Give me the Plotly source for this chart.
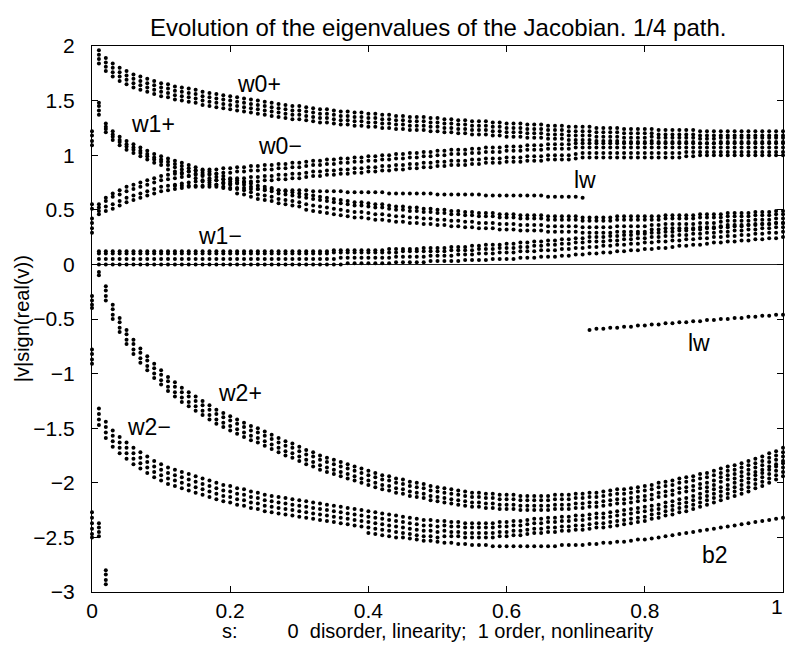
import plotly.graph_objects as go

# s grid (columns of computed eigenvalues)
S = [0.01,0.02,0.03,0.04,0.05,0.06,0.07,0.08,0.09,0.10,
     0.11,0.12,0.13,0.14,0.15,0.16,0.17,0.18,0.19,0.20,
     0.21,0.22,0.23,0.24,0.25,0.26,0.27,0.28,0.29,0.30,
     0.31,0.32,0.33,0.34,0.35,0.36,0.37,0.38,0.39,0.40,
     0.41,0.42,0.43,0.44,0.45,0.46,0.47,0.48,0.49,0.50,
     0.51,0.52,0.53,0.54,0.55,0.56,0.57,0.58,0.59,0.60,
     0.61,0.62,0.63,0.64,0.65,0.66,0.67,0.68,0.69,0.70,
     0.71,0.72,0.73,0.74,0.75,0.76,0.77,0.78,0.79,0.80,
     0.81,0.82,0.83,0.84,0.85,0.86,0.87,0.88,0.89,0.90,
     0.91,0.92,0.93,0.94,0.95,0.96,0.97,0.98,0.99,1.00]

# ---- w0+ band (4 branches)
W0P_A = [1.96,1.89,1.84,1.80,1.77,1.74,1.72,1.70,1.68,1.66,
         1.65,1.63,1.62,1.61,1.60,1.58,1.57,1.56,1.55,1.54,
         1.53,1.52,1.51,1.50,1.49,1.48,1.47,1.46,1.45,1.45,
         1.44,1.43,1.42,1.42,1.41,1.40,1.40,1.39,1.39,1.38,
         1.38,1.37,1.37,1.36,1.36,1.35,1.35,1.35,1.34,1.34,
         1.33,1.33,1.32,1.32,1.31,1.31,1.31,1.30,1.30,1.29,
         1.29,1.29,1.28,1.28,1.28,1.27,1.27,1.27,1.26,1.26,
         1.26,1.26,1.25,1.25,1.25,1.25,1.24,1.24,1.24,1.24,
         1.24,1.23,1.23,1.23,1.23,1.23,1.23,1.22,1.22,1.22,
         1.22,1.22,1.22,1.22,1.22,1.22,1.22,1.22,1.22,1.22]
W0P_B = [1.92,1.85,1.80,1.76,1.73,1.70,1.68,1.66,1.64,1.62,
         1.61,1.59,1.58,1.57,1.56,1.54,1.53,1.52,1.51,1.50,
         1.49,1.48,1.47,1.46,1.45,1.44,1.43,1.42,1.41,1.41,
         1.40,1.39,1.38,1.38,1.37,1.36,1.36,1.35,1.35,1.34,
         1.34,1.33,1.33,1.32,1.32,1.31,1.31,1.31,1.30,1.30,
         1.29,1.29,1.28,1.28,1.27,1.27,1.27,1.26,1.26,1.25,
         1.25,1.25,1.24,1.24,1.24,1.23,1.23,1.23,1.22,1.22,
         1.22,1.22,1.21,1.21,1.21,1.21,1.20,1.20,1.20,1.20,
         1.20,1.19,1.19,1.19,1.19,1.19,1.19,1.18,1.18,1.18,
         1.18,1.18,1.18,1.18,1.18,1.18,1.18,1.18,1.18,1.18]
W0P_C = [1.88,1.81,1.76,1.72,1.69,1.66,1.64,1.62,1.60,1.58,
         1.57,1.55,1.54,1.53,1.52,1.50,1.49,1.48,1.47,1.46,
         1.45,1.44,1.43,1.42,1.41,1.40,1.39,1.38,1.37,1.37,
         1.36,1.35,1.34,1.34,1.33,1.32,1.32,1.31,1.31,1.30,
         1.30,1.29,1.29,1.28,1.28,1.27,1.27,1.27,1.26,1.26,
         1.25,1.25,1.24,1.24,1.23,1.23,1.23,1.22,1.22,1.21,
         1.21,1.21,1.20,1.20,1.20,1.19,1.19,1.19,1.18,1.18,
         1.18,1.18,1.17,1.17,1.17,1.17,1.16,1.16,1.16,1.16,
         1.17,1.16,1.16,1.16,1.16,1.16,1.16,1.15,1.15,1.15,
         1.16,1.16,1.16,1.16,1.16,1.16,1.16,1.16,1.16,1.16]
W0P_D = [1.84,1.77,1.72,1.68,1.65,1.62,1.60,1.58,1.56,1.54,
         1.53,1.51,1.50,1.49,1.48,1.46,1.45,1.44,1.43,1.42,
         1.41,1.40,1.39,1.38,1.37,1.36,1.35,1.34,1.33,1.33,
         1.32,1.31,1.30,1.30,1.29,1.28,1.28,1.27,1.27,1.26,
         1.26,1.25,1.25,1.24,1.24,1.23,1.23,1.23,1.22,1.22,
         1.21,1.21,1.20,1.20,1.19,1.19,1.19,1.18,1.18,1.17,
         1.17,1.17,1.16,1.16,1.16,1.15,1.15,1.15,1.14,1.14,
         1.14,1.14,1.13,1.13,1.13,1.13,1.12,1.12,1.12,1.12,
         1.13,1.12,1.12,1.12,1.12,1.12,1.12,1.11,1.11,1.11,
         1.12,1.12,1.12,1.12,1.12,1.12,1.12,1.12,1.12,1.12]

# ---- w0- band
W0M_A = [0.55,0.61,0.65,0.68,0.71,0.73,0.75,0.77,0.79,0.81,
         0.82,0.83,0.84,0.85,0.86,0.86,0.87,0.87,0.88,0.88,
         0.89,0.89,0.90,0.90,0.91,0.91,0.92,0.92,0.93,0.93,
         0.94,0.95,0.95,0.96,0.96,0.97,0.97,0.98,0.98,0.99,
         0.99,1.00,1.00,1.01,1.01,1.02,1.02,1.03,1.03,1.04,
         1.04,1.05,1.05,1.05,1.06,1.06,1.07,1.07,1.07,1.08,
         1.08,1.08,1.09,1.09,1.09,1.10,1.10,1.10,1.10,1.11,
         1.11,1.11,1.11,1.11,1.11,1.11,1.11,1.11,1.11,1.11,
         1.11,1.11,1.11,1.11,1.11,1.11,1.11,1.11,1.11,1.11,
         1.11,1.11,1.11,1.11,1.11,1.11,1.11,1.11,1.11,1.11]
W0M_B = [0.52,0.58,0.62,0.64,0.67,0.69,0.71,0.73,0.75,0.77,
         0.78,0.79,0.80,0.81,0.82,0.82,0.83,0.83,0.84,0.84,
         0.85,0.85,0.86,0.86,0.87,0.87,0.88,0.88,0.89,0.89,
         0.90,0.91,0.91,0.92,0.92,0.93,0.93,0.94,0.94,0.95,
         0.95,0.96,0.96,0.97,0.97,0.98,0.98,0.99,0.99,1.00,
         1.00,1.01,1.01,1.01,1.02,1.02,1.03,1.03,1.03,1.04,
         1.04,1.04,1.05,1.05,1.05,1.06,1.06,1.06,1.06,1.07,
         1.07,1.07,1.07,1.07,1.07,1.07,1.07,1.07,1.07,1.07,
         1.07,1.07,1.07,1.07,1.07,1.07,1.07,1.07,1.07,1.07,
         1.07,1.07,1.07,1.07,1.07,1.07,1.07,1.07,1.07,1.07]
W0M_C = [0.49,0.53,0.55,0.58,0.61,0.63,0.65,0.67,0.69,0.71,
         0.72,0.73,0.74,0.75,0.76,0.76,0.77,0.77,0.78,0.78,
         0.79,0.79,0.80,0.80,0.81,0.81,0.82,0.82,0.83,0.83,
         0.84,0.85,0.85,0.86,0.86,0.87,0.87,0.88,0.88,0.89,
         0.89,0.90,0.90,0.91,0.91,0.92,0.92,0.93,0.93,0.94,
         0.94,0.95,0.95,0.95,0.96,0.96,0.97,0.97,0.97,0.98,
         0.98,0.98,0.99,0.99,0.99,1.00,1.00,1.00,1.00,1.01,
         1.02,1.02,1.02,1.02,1.02,1.02,1.02,1.02,1.02,1.02,
         1.02,1.02,1.02,1.02,1.02,1.03,1.03,1.03,1.03,1.03,
         1.03,1.03,1.03,1.03,1.03,1.03,1.03,1.03,1.03,1.03]
W0M_D = [0.46,0.49,0.51,0.54,0.57,0.59,0.61,0.63,0.65,0.67,
         0.68,0.69,0.70,0.71,0.72,0.72,0.73,0.73,0.74,0.74,
         0.75,0.75,0.76,0.76,0.77,0.77,0.78,0.78,0.79,0.79,
         0.80,0.81,0.81,0.82,0.82,0.83,0.83,0.84,0.84,0.85,
         0.85,0.86,0.86,0.87,0.87,0.88,0.88,0.89,0.89,0.90,
         0.90,0.91,0.91,0.91,0.92,0.92,0.93,0.93,0.93,0.94,
         0.94,0.94,0.95,0.95,0.95,0.96,0.96,0.96,0.96,0.97,
         0.98,0.98,0.98,0.98,0.98,0.98,0.98,0.98,0.98,0.98,
         0.98,0.98,0.98,0.98,0.98,0.99,0.99,1.00,1.00,1.00,
         1.00,1.00,1.00,1.00,1.00,1.00,1.00,1.00,1.00,1.00]

# ---- w1+ band
W1P_A = [1.48,1.29,1.22,1.17,1.13,1.10,1.07,1.04,1.01,0.99,
         0.97,0.95,0.93,0.91,0.89,0.87,0.85,0.83,0.81,0.79,
         0.77,0.76,0.74,0.72,0.71,0.70,0.68,0.67,0.66,0.65,
         0.64,0.63,0.62,0.61,0.60,0.59,0.58,0.57,0.57,0.56,
         0.55,0.55,0.54,0.53,0.53,0.52,0.52,0.51,0.51,0.50,
         0.50,0.49,0.49,0.48,0.48,0.47,0.47,0.47,0.46,0.46,
         0.46,0.45,0.45,0.45,0.45,0.44,0.44,0.44,0.44,0.44,
         0.43,0.43,0.43,0.43,0.43,0.44,0.44,0.44,0.44,0.44,
         0.44,0.44,0.45,0.45,0.45,0.45,0.45,0.46,0.46,0.46,
         0.46,0.47,0.47,0.47,0.47,0.48,0.48,0.48,0.49,0.49]
W1P_B = [1.45,1.26,1.19,1.14,1.10,1.07,1.04,1.01,0.98,0.96,
         0.94,0.92,0.90,0.88,0.86,0.84,0.82,0.80,0.78,0.76,
         0.74,0.73,0.71,0.69,0.68,0.67,0.65,0.64,0.63,0.62,
         0.61,0.60,0.59,0.58,0.57,0.56,0.55,0.54,0.54,0.53,
         0.52,0.52,0.51,0.50,0.50,0.49,0.49,0.48,0.48,0.47,
         0.47,0.46,0.46,0.45,0.45,0.44,0.44,0.44,0.43,0.43,
         0.43,0.42,0.42,0.42,0.42,0.41,0.41,0.41,0.41,0.41,
         0.40,0.40,0.40,0.40,0.40,0.41,0.41,0.41,0.41,0.41,
         0.41,0.41,0.42,0.42,0.42,0.42,0.42,0.43,0.43,0.43,
         0.43,0.44,0.44,0.44,0.44,0.45,0.45,0.45,0.46,0.46]
W1P_C = [1.41,1.24,1.17,1.12,1.08,1.05,1.02,0.99,0.96,0.94,
         0.91,0.89,0.87,0.85,0.83,0.81,0.79,0.77,0.75,0.73,
         0.69,0.68,0.66,0.64,0.63,0.62,0.60,0.59,0.58,0.57,
         0.55,0.54,0.53,0.52,0.51,0.50,0.49,0.48,0.48,0.47,
         0.46,0.46,0.45,0.44,0.44,0.43,0.43,0.42,0.42,0.41,
         0.41,0.40,0.40,0.39,0.39,0.38,0.38,0.38,0.37,0.37,
         0.37,0.36,0.36,0.36,0.36,0.35,0.35,0.35,0.35,0.35,
         0.34,0.34,0.34,0.34,0.34,0.35,0.35,0.35,0.35,0.35,
         0.36,0.36,0.37,0.37,0.37,0.37,0.37,0.38,0.38,0.38,
         0.39,0.40,0.40,0.40,0.40,0.41,0.41,0.41,0.42,0.42]
W1P_D = [1.37,1.21,1.14,1.09,1.05,1.02,0.99,0.96,0.93,0.91,
         0.87,0.85,0.83,0.81,0.79,0.77,0.75,0.73,0.71,0.69,
         0.65,0.64,0.62,0.60,0.59,0.58,0.56,0.55,0.54,0.53,
         0.50,0.49,0.48,0.47,0.46,0.45,0.44,0.43,0.43,0.42,
         0.41,0.41,0.40,0.39,0.39,0.38,0.38,0.37,0.37,0.36,
         0.36,0.35,0.35,0.34,0.34,0.33,0.33,0.33,0.32,0.32,
         0.32,0.31,0.31,0.31,0.31,0.30,0.30,0.30,0.30,0.30,
         0.29,0.29,0.29,0.29,0.29,0.30,0.30,0.30,0.30,0.30,
         0.32,0.32,0.33,0.33,0.33,0.33,0.33,0.34,0.34,0.34,
         0.35,0.36,0.36,0.36,0.36,0.37,0.37,0.37,0.38,0.38]

# ---- w1- band
W1M_A = [0.12,0.12,0.12,0.12,0.12,0.12,0.12,0.12,0.12,0.12,
         0.12,0.12,0.12,0.12,0.12,0.12,0.12,0.12,0.12,0.12,
         0.12,0.12,0.12,0.12,0.12,0.12,0.12,0.12,0.12,0.12,
         0.12,0.12,0.12,0.12,0.13,0.13,0.13,0.13,0.13,0.13,
         0.13,0.13,0.14,0.14,0.14,0.14,0.14,0.15,0.15,0.15,
         0.15,0.16,0.16,0.16,0.17,0.17,0.18,0.18,0.18,0.19,
         0.19,0.20,0.20,0.21,0.21,0.22,0.22,0.23,0.23,0.24,
         0.24,0.25,0.25,0.25,0.26,0.26,0.27,0.27,0.28,0.28,
         0.29,0.29,0.30,0.30,0.31,0.31,0.32,0.32,0.33,0.33,
         0.34,0.34,0.35,0.35,0.36,0.36,0.37,0.37,0.38,0.38]
W1M_B = [0.10,0.10,0.10,0.10,0.10,0.10,0.10,0.10,0.10,0.10,
         0.10,0.10,0.10,0.10,0.10,0.10,0.10,0.10,0.10,0.10,
         0.10,0.10,0.10,0.10,0.10,0.10,0.10,0.10,0.10,0.10,
         0.10,0.10,0.10,0.10,0.11,0.11,0.11,0.11,0.11,0.11,
         0.11,0.11,0.11,0.11,0.12,0.12,0.12,0.12,0.12,0.12,
         0.12,0.13,0.13,0.13,0.13,0.14,0.14,0.14,0.15,0.15,
         0.15,0.16,0.16,0.17,0.17,0.18,0.18,0.19,0.19,0.20,
         0.20,0.21,0.21,0.21,0.22,0.22,0.23,0.23,0.24,0.24,
         0.25,0.25,0.26,0.26,0.27,0.27,0.28,0.28,0.29,0.29,
         0.30,0.30,0.31,0.31,0.32,0.32,0.33,0.33,0.34,0.34]
W1M_C = [0.05,0.05,0.05,0.05,0.05,0.05,0.05,0.05,0.05,0.05,
         0.05,0.05,0.05,0.05,0.05,0.05,0.05,0.05,0.05,0.05,
         0.05,0.05,0.05,0.05,0.05,0.05,0.05,0.05,0.05,0.05,
         0.05,0.05,0.05,0.05,0.05,0.06,0.06,0.06,0.06,0.06,
         0.06,0.06,0.06,0.07,0.07,0.07,0.07,0.07,0.08,0.08,
         0.08,0.08,0.09,0.09,0.09,0.10,0.10,0.10,0.11,0.11,
         0.11,0.12,0.12,0.12,0.13,0.13,0.13,0.14,0.14,0.15,
         0.15,0.16,0.16,0.17,0.17,0.18,0.18,0.19,0.19,0.20,
         0.20,0.21,0.21,0.22,0.22,0.23,0.23,0.24,0.24,0.25,
         0.25,0.26,0.26,0.27,0.27,0.28,0.28,0.29,0.29,0.30]
W1M_D = [0.00,0.00,0.00,0.00,0.00,0.00,0.00,0.00,0.00,0.00,
         0.00,0.00,0.00,0.00,0.00,0.00,0.00,0.00,0.00,0.00,
         0.00,0.00,0.00,0.00,0.00,0.00,0.00,0.00,0.00,0.00,
         0.00,0.00,0.00,0.00,0.00,0.00,0.01,0.01,0.01,0.01,
         0.01,0.01,0.01,0.02,0.02,0.02,0.02,0.02,0.03,0.03,
         0.03,0.03,0.03,0.04,0.04,0.04,0.04,0.05,0.05,0.05,
         0.05,0.06,0.06,0.06,0.07,0.07,0.07,0.08,0.08,0.09,
         0.09,0.10,0.10,0.11,0.11,0.12,0.12,0.13,0.13,0.14,
         0.14,0.15,0.15,0.16,0.17,0.17,0.18,0.18,0.19,0.20,
         0.20,0.21,0.21,0.22,0.22,0.23,0.23,0.24,0.24,0.25]

# ---- w2+ band (starts at s = 0.02)
W2P_A = [-0.20,-0.37,-0.49,-0.60,-0.69,-0.77,-0.84,-0.91,-0.97,
         -1.03,-1.08,-1.13,-1.17,-1.21,-1.25,-1.29,-1.33,-1.36,-1.39,
         -1.42,-1.45,-1.48,-1.50,-1.53,-1.56,-1.59,-1.62,-1.64,-1.67,
         -1.70,-1.72,-1.75,-1.77,-1.79,-1.81,-1.83,-1.85,-1.87,-1.89,
         -1.91,-1.93,-1.94,-1.96,-1.97,-1.99,-2.00,-2.01,-2.03,-2.04,
         -2.05,-2.06,-2.07,-2.08,-2.09,-2.09,-2.10,-2.10,-2.11,-2.11,
         -2.11,-2.12,-2.12,-2.12,-2.12,-2.12,-2.11,-2.11,-2.11,-2.10,
         -2.10,-2.09,-2.09,-2.08,-2.07,-2.06,-2.06,-2.05,-2.04,-2.03,
         -2.02,-2.00,-1.99,-1.98,-1.96,-1.95,-1.94,-1.92,-1.91,-1.89,
         -1.87,-1.85,-1.84,-1.82,-1.80,-1.78,-1.76,-1.73,-1.71,-1.68]
W2P_B = [-0.24,-0.41,-0.53,-0.64,-0.73,-0.81,-0.88,-0.95,-1.01,
         -1.07,-1.12,-1.17,-1.21,-1.25,-1.29,-1.33,-1.37,-1.40,-1.43,
         -1.46,-1.49,-1.52,-1.54,-1.57,-1.60,-1.63,-1.66,-1.68,-1.71,
         -1.74,-1.76,-1.79,-1.81,-1.83,-1.85,-1.87,-1.89,-1.91,-1.93,
         -1.95,-1.97,-1.98,-2.00,-2.01,-2.03,-2.04,-2.05,-2.07,-2.08,
         -2.09,-2.10,-2.11,-2.12,-2.13,-2.13,-2.14,-2.14,-2.15,-2.15,
         -2.15,-2.16,-2.16,-2.16,-2.16,-2.16,-2.15,-2.15,-2.15,-2.14,
         -2.14,-2.13,-2.13,-2.12,-2.11,-2.10,-2.10,-2.09,-2.08,-2.07,
         -2.06,-2.04,-2.03,-2.02,-2.00,-1.99,-1.98,-1.96,-1.95,-1.93,
         -1.91,-1.89,-1.88,-1.86,-1.84,-1.82,-1.80,-1.77,-1.75,-1.72]
W2P_C = [-0.29,-0.46,-0.58,-0.69,-0.78,-0.86,-0.93,-1.00,-1.06,
         -1.12,-1.17,-1.22,-1.26,-1.30,-1.34,-1.38,-1.42,-1.45,-1.48,
         -1.51,-1.54,-1.57,-1.59,-1.62,-1.65,-1.68,-1.71,-1.73,-1.76,
         -1.79,-1.81,-1.84,-1.86,-1.88,-1.90,-1.92,-1.94,-1.96,-1.98,
         -2.00,-2.02,-2.03,-2.05,-2.06,-2.08,-2.09,-2.10,-2.12,-2.13,
         -2.14,-2.15,-2.16,-2.17,-2.18,-2.18,-2.19,-2.19,-2.20,-2.20,
         -2.20,-2.21,-2.21,-2.21,-2.21,-2.21,-2.20,-2.20,-2.20,-2.19,
         -2.19,-2.18,-2.18,-2.17,-2.16,-2.15,-2.15,-2.14,-2.13,-2.12,
         -2.11,-2.09,-2.08,-2.07,-2.05,-2.04,-2.03,-2.01,-2.00,-1.98,
         -1.95,-1.93,-1.92,-1.90,-1.88,-1.86,-1.84,-1.81,-1.79,-1.76]
W2P_D = [-0.33,-0.50,-0.62,-0.73,-0.82,-0.90,-0.97,-1.04,-1.10,
         -1.16,-1.21,-1.26,-1.30,-1.34,-1.38,-1.42,-1.46,-1.49,-1.52,
         -1.55,-1.58,-1.61,-1.63,-1.66,-1.69,-1.72,-1.75,-1.77,-1.80,
         -1.83,-1.85,-1.88,-1.90,-1.92,-1.94,-1.96,-1.98,-2.00,-2.02,
         -2.04,-2.06,-2.07,-2.09,-2.10,-2.12,-2.13,-2.14,-2.16,-2.17,
         -2.18,-2.19,-2.20,-2.21,-2.22,-2.22,-2.23,-2.23,-2.24,-2.24,
         -2.24,-2.25,-2.25,-2.25,-2.25,-2.25,-2.24,-2.24,-2.24,-2.23,
         -2.23,-2.22,-2.22,-2.21,-2.20,-2.19,-2.19,-2.18,-2.17,-2.16,
         -2.15,-2.13,-2.12,-2.11,-2.09,-2.08,-2.07,-2.05,-2.04,-2.02,
         -1.99,-1.97,-1.96,-1.94,-1.92,-1.90,-1.88,-1.85,-1.83,-1.80]

# ---- w2- band
W2M_A = [-1.32,-1.44,-1.52,-1.58,-1.63,-1.68,-1.72,-1.76,-1.80,-1.83,
         -1.86,-1.88,-1.90,-1.92,-1.94,-1.96,-1.98,-2.00,-2.02,-2.03,
         -2.05,-2.06,-2.08,-2.09,-2.11,-2.12,-2.13,-2.14,-2.15,-2.16,
         -2.17,-2.18,-2.19,-2.20,-2.21,-2.22,-2.23,-2.24,-2.25,-2.26,
         -2.27,-2.28,-2.29,-2.30,-2.31,-2.32,-2.33,-2.34,-2.34,-2.35,
         -2.35,-2.36,-2.36,-2.37,-2.37,-2.37,-2.37,-2.37,-2.36,-2.36,
         -2.35,-2.35,-2.34,-2.33,-2.33,-2.32,-2.32,-2.31,-2.31,-2.30,
         -2.30,-2.29,-2.28,-2.28,-2.27,-2.26,-2.25,-2.24,-2.23,-2.22,
         -2.21,-2.20,-2.18,-2.17,-2.15,-2.14,-2.12,-2.10,-2.08,-2.06,
         -2.04,-2.02,-2.00,-1.98,-1.96,-1.93,-1.91,-1.88,-1.85,-1.82]
W2M_B = [-1.37,-1.49,-1.57,-1.63,-1.68,-1.73,-1.77,-1.81,-1.85,-1.88,
         -1.91,-1.93,-1.95,-1.97,-1.99,-2.01,-2.03,-2.05,-2.07,-2.08,
         -2.10,-2.11,-2.13,-2.14,-2.16,-2.17,-2.18,-2.19,-2.20,-2.21,
         -2.22,-2.23,-2.24,-2.25,-2.26,-2.27,-2.28,-2.29,-2.30,-2.31,
         -2.32,-2.33,-2.34,-2.35,-2.36,-2.37,-2.38,-2.39,-2.39,-2.40,
         -2.39,-2.40,-2.40,-2.41,-2.41,-2.41,-2.41,-2.41,-2.40,-2.40,
         -2.39,-2.39,-2.38,-2.37,-2.37,-2.36,-2.36,-2.35,-2.35,-2.34,
         -2.34,-2.33,-2.32,-2.32,-2.31,-2.30,-2.29,-2.28,-2.27,-2.26,
         -2.25,-2.24,-2.22,-2.21,-2.19,-2.18,-2.16,-2.14,-2.12,-2.10,
         -2.08,-2.06,-2.04,-2.02,-2.00,-1.97,-1.95,-1.92,-1.89,-1.86]
W2M_C = [-1.42,-1.54,-1.62,-1.68,-1.73,-1.78,-1.82,-1.86,-1.90,-1.93,
         -1.96,-1.98,-2.00,-2.02,-2.04,-2.06,-2.08,-2.10,-2.12,-2.13,
         -2.15,-2.16,-2.18,-2.19,-2.21,-2.22,-2.23,-2.24,-2.25,-2.26,
         -2.27,-2.28,-2.29,-2.30,-2.31,-2.32,-2.33,-2.34,-2.35,-2.36,
         -2.37,-2.38,-2.39,-2.40,-2.41,-2.42,-2.43,-2.44,-2.44,-2.45,
         -2.44,-2.45,-2.45,-2.46,-2.46,-2.46,-2.46,-2.46,-2.45,-2.45,
         -2.44,-2.44,-2.43,-2.42,-2.42,-2.41,-2.41,-2.40,-2.40,-2.39,
         -2.39,-2.38,-2.37,-2.37,-2.36,-2.35,-2.34,-2.33,-2.32,-2.31,
         -2.29,-2.28,-2.26,-2.25,-2.23,-2.22,-2.20,-2.18,-2.16,-2.14,
         -2.12,-2.10,-2.08,-2.06,-2.04,-2.01,-1.99,-1.96,-1.93,-1.90]
W2M_D = [-1.47,-1.59,-1.67,-1.73,-1.78,-1.83,-1.87,-1.91,-1.95,-1.98,
         -2.01,-2.03,-2.05,-2.07,-2.09,-2.11,-2.13,-2.15,-2.17,-2.18,
         -2.20,-2.21,-2.23,-2.24,-2.26,-2.27,-2.28,-2.29,-2.30,-2.31,
         -2.32,-2.33,-2.34,-2.35,-2.36,-2.37,-2.38,-2.39,-2.40,-2.41,
         -2.42,-2.43,-2.44,-2.45,-2.46,-2.47,-2.48,-2.49,-2.49,-2.50,
         -2.49,-2.49,-2.49,-2.50,-2.50,-2.50,-2.50,-2.50,-2.49,-2.49,
         -2.48,-2.48,-2.47,-2.46,-2.46,-2.45,-2.45,-2.44,-2.44,-2.43,
         -2.43,-2.42,-2.41,-2.41,-2.40,-2.39,-2.38,-2.37,-2.36,-2.35,
         -2.33,-2.32,-2.30,-2.29,-2.27,-2.26,-2.24,-2.22,-2.20,-2.18,
         -2.16,-2.14,-2.12,-2.10,-2.08,-2.05,-2.03,-2.00,-1.97,-1.94]

# ---- single branches
LW_UP = [0.72,0.72,0.72,0.71,0.71,0.71,0.71,0.70,0.70,0.70,
         0.70,0.69,0.69,0.69,0.69,0.68,0.68,0.68,0.68,0.68,
         0.67,0.67,0.67,0.67,0.67,0.66,0.66,0.66,0.66,0.66,
         0.66,0.65,0.65,0.65,0.65,0.65,0.65,0.65,0.64,0.64,
         0.64,0.64,0.64,0.64,0.64,0.63,0.63,0.63,0.63,0.63,
         0.63,0.63,0.63,0.63,0.62,0.62,0.62,0.62,0.62,0.61]      # s = 0.12 .. 0.71
LW_LO = [-0.60,-0.59,-0.59,-0.58,-0.58,-0.57,-0.57,-0.56,-0.56,-0.55,
         -0.55,-0.54,-0.54,-0.53,-0.53,-0.52,-0.52,-0.51,-0.51,-0.50,
         -0.50,-0.49,-0.49,-0.48,-0.48,-0.47,-0.47,-0.46,-0.46]  # s = 0.72 .. 1.00
B2 = [-2.46,-2.47,-2.48,-2.49,-2.50,-2.50,-2.51,-2.52,-2.53,-2.53,
      -2.54,-2.55,-2.55,-2.56,-2.56,-2.57,-2.57,-2.57,-2.58,-2.58,
      -2.58,-2.58,-2.58,-2.58,-2.58,-2.58,-2.58,-2.58,-2.57,-2.57,
      -2.57,-2.57,-2.56,-2.56,-2.55,-2.55,-2.54,-2.54,-2.53,-2.52,
      -2.52,-2.51,-2.50,-2.49,-2.48,-2.47,-2.46,-2.45,-2.44,-2.43,
      -2.42,-2.41,-2.40,-2.39,-2.38,-2.37,-2.36,-2.35,-2.34,-2.33,
      -2.32]                                                       # s = 0.40 .. 1.00

# ---- isolated eigenvalues at the very start of the path
EDGE_S = [0, 0, 0, 0, 0, 0, 0, 0, 0, 0, 0, 0, 0, 0, 0, 0, 0, 0, 0, 0, 0, 0, 0, 0,
          0.01, 0.01, 0.01, 0.01, 0.01, 0.01, 0.02, 0.02, 0.02, 0.02]
EDGE_V = [1.22, 1.18, 1.13, 1.09, 0.55, 0.51, 0.42, 0.38, 0.33, 0.29,
          -0.29, -0.33, -0.37, -0.40, -0.78, -0.82, -0.87, -0.91,
          -2.27, -2.32, -2.37, -2.42, -2.47, -2.50,
          -0.07, -0.10, -2.37, -2.41, -2.45, -2.49,
          -2.80, -2.84, -2.89, -2.93]

# ---- branch labels
LABELS = ["w0+", "w1+", "w0\u2212", "lw", "w1\u2212", "w2+", "w2\u2212", "lw", "b2"]
LABEL_S = [0.242, 0.088, 0.272, 0.713, 0.185, 0.214, 0.083, 0.878, 0.902]
LABEL_V = [1.65, 1.29, 1.085, 0.77, 0.26, -1.18, -1.49, -0.72, -2.66]

XTICKS = [0, 0.2, 0.4, 0.6, 0.8, 1]
XTICK_TEXT = ["0", "0.2", "0.4", "0.6", "0.8", ""]   # "1" sits at the window edge, drawn below
YTICKS = [-3, -2.5, -2, -1.5, -1, -0.5, 0, 0.5, 1, 1.5, 2]

series = [
    (S, W0P_A), (S, W0P_B), (S, W0P_C), (S, W0P_D),
    (S, W0M_A), (S, W0M_B), (S, W0M_C), (S, W0M_D),
    (S, W1P_A), (S, W1P_B), (S, W1P_C), (S, W1P_D),
    (S, W1M_A), (S, W1M_B), (S, W1M_C), (S, W1M_D),
    (S[1:], W2P_A), (S[1:], W2P_B), (S[1:], W2P_C), (S[1:], W2P_D),
    (S, W2M_A), (S, W2M_B), (S, W2M_C), (S, W2M_D),
    (S[11:71], LW_UP), (S[71:], LW_LO), (S[39:], B2),
    (EDGE_S, EDGE_V),
]
for xs, ys in series:
    assert len(xs) == len(ys), (len(xs), len(ys))

FONT = "Liberation Sans, Arial, Helvetica, sans-serif"

fig = go.Figure()
for xs, ys in series:
    fig.add_trace(go.Scatter(
        x=xs, y=ys, mode="markers", cliponaxis=False, showlegend=False,
        marker=dict(size=4, color="black", line=dict(width=0)),
        hoverinfo="skip"))

for t, xv, yv in zip(LABELS, LABEL_S, LABEL_V):
    fig.add_annotation(x=xv, y=yv, xref="x", yref="y", text=t, showarrow=False,
                       xanchor="center", yanchor="middle",
                       font=dict(family=FONT, size=23, color="black"))

# last x tick label, right-aligned to the figure edge so it stays inside the page
fig.add_annotation(x=1.0029, y=0, xref="paper", yref="paper", text="1",
                   showarrow=False, xanchor="right", yanchor="top", yshift=-1,
                   font=dict(family=FONT, size=21, color="black"))

fig.add_annotation(x=0.5, y=1.033, xref="paper", yref="paper",
                   text="Evolution of the eigenvalues of the Jacobian. 1/4 path.",
                   showarrow=False, xanchor="center", yanchor="middle",
                   font=dict(family=FONT, size=24, color="black"))
NB = "\u00a0"
fig.add_annotation(x=0.5, y=-0.072, xref="paper", yref="paper",
                   text="s:" + NB * 9 + "0" + NB * 2 + "disorder, linearity;" + NB * 2 + "1 order, nonlinearity",
                   showarrow=False, xanchor="center", yanchor="middle",
                   font=dict(family=FONT, size=20, color="black"))
fig.add_annotation(x=-0.101, y=0.5, xref="paper", yref="paper",
                   text="|v|sign(real(v))", textangle=-90,
                   showarrow=False, xanchor="center", yanchor="middle",
                   font=dict(family=FONT, size=20, color="black"))

axis_common = dict(showgrid=False, showline=True, linecolor="black", linewidth=1,
                   mirror="ticks", ticks="inside", ticklen=6, tickcolor="black",
                   tickfont=dict(family=FONT, size=21, color="black"))
fig.update_xaxes(range=[0, 1], tickvals=XTICKS, ticktext=XTICK_TEXT,
                 zeroline=False, **axis_common)
fig.update_yaxes(range=[-3, 2], tickvals=YTICKS, zeroline=True,
                 zerolinecolor="#222222", zerolinewidth=1,
                 ticklabelstandoff=12, **axis_common)

fig.update_layout(width=785, height=650, autosize=False,
                  margin=dict(l=92, r=2, t=46, b=58),
                  paper_bgcolor="white", plot_bgcolor="white",
                  font=dict(family=FONT, color="black"))

# drop the default page margin so the 785x650 figure fills the window exactly
fig.write_html("out.html",
               config={"displayModeBar": False},
               post_script="document.body.style.margin='0';"
                           "document.body.style.overflow='hidden';")
